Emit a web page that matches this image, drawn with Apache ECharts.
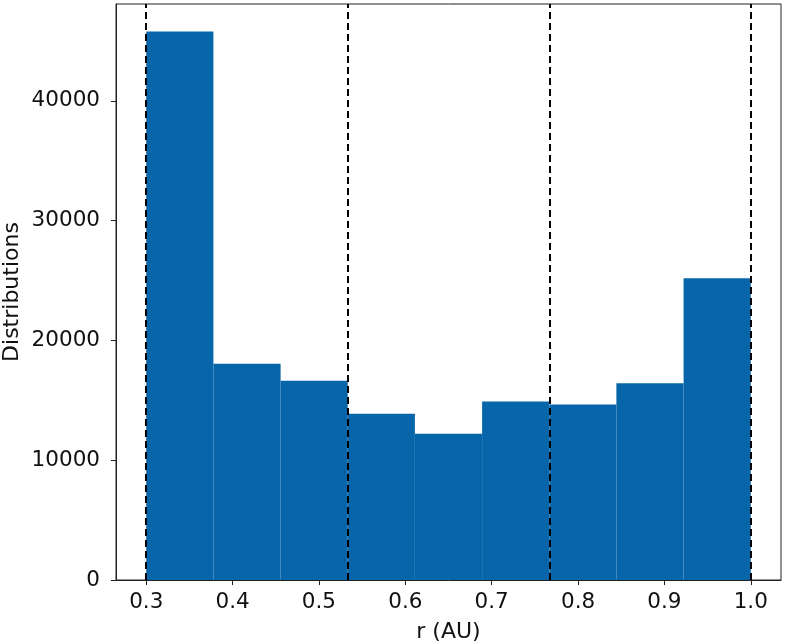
<!DOCTYPE html>
<html>
<head>
<meta charset="utf-8">
<script src="https://cdn.jsdelivr.net/npm/echarts@6/dist/echarts.min.js"></script>
<style>
  html, body { margin: 0; padding: 0; background: #fff; }
  #chart { width: 785px; height: 644px; }
</style>
</head>
<body>
<div id="chart"></div>
<script>
// histogram bins of r (AU), 9 bins from 0.3 to 1.0
var binEdges = [0.3, 0.3778, 0.4556, 0.5333, 0.6111, 0.6889, 0.7667, 0.8444, 0.9222, 1.0];
var counts = [45800, 18050, 16630, 13870, 12200, 14900, 14650, 16430, 25190];
// dashed region boundaries
var boundaries = [0.3, 0.5333, 0.7667, 1.0];
var xTicks = [0.3, 0.4, 0.5, 0.6, 0.7, 0.8, 0.9, 1.0];
var yTicks = [0, 10000, 20000, 30000, 40000];

var barColor = "#0766a9";
var textColor = "#111";
var font = "DejaVu Sans";

var histData = counts.map(function (c, i) {
  return [binEdges[i], binEdges[i + 1], c];
});

var chart = echarts.init(document.getElementById("chart"));

var option = {
  animation: false,
  grid: {
    left: 116,
    right: 4,
    top: 4,
    bottom: 64,
    outerBoundsMode: "none",
    containLabel: false,
    show: true,
    borderColor: "#222",
    borderWidth: 1,
  },
  xAxis: {
    type: "value",
    min: 0.265,
    max: 1.035,
    name: "r (AU)",
    nameLocation: "middle",
    nameGap: 41,
    nameMoveOverlap: false,
    nameTextStyle: { fontFamily: font, fontSize: 22, color: textColor },
    axisLine: { show: true, lineStyle: { color: "#222", width: 1 } },
    axisTick: {
      show: true,
      length: 5,
      customValues: xTicks,
      lineStyle: { color: "#222" },
    },
    axisLabel: {
      customValues: xTicks,
      margin: 11,
      fontFamily: font,
      fontSize: 21.5,
      color: textColor,
      formatter: function (v) {
        return v.toFixed(1);
      },
    },
    splitLine: { show: false },
  },
  yAxis: {
    type: "value",
    min: 0,
    max: Math.max.apply(null, counts) * 1.05,
    name: "Distributions",
    nameLocation: "middle",
    nameGap: 93,
    nameMoveOverlap: false,
    nameTextStyle: { fontFamily: font, fontSize: 22, color: textColor },
    axisLine: { show: true, lineStyle: { color: "#222", width: 1 } },
    axisTick: {
      show: true,
      length: 5,
      customValues: yTicks,
      lineStyle: { color: "#222" },
    },
    axisLabel: {
      customValues: yTicks,
      margin: 16,
      fontFamily: font,
      fontSize: 21.5,
      color: textColor,
      formatter: function (v) {
        return String(v);
      },
    },
    splitLine: { show: false },
  },
  series: [
    {
      type: "custom",
      data: histData,
      encode: { x: [0, 1], y: 2 },
      renderItem: function (params, api) {
        var top = api.coord([api.value(0), api.value(2)]);
        var bottom = api.coord([api.value(1), 0]);
        return {
          type: "rect",
          shape: {
            x: top[0],
            y: top[1],
            width: bottom[0] - top[0],
            height: bottom[1] - top[1],
          },
          style: { fill: barColor },
        };
      },
      z: 2,
    },
    {
      type: "line",
      data: [],
      z: 5,
      markLine: {
        silent: true,
        symbol: "none",
        precision: 4,
        label: { show: false },
        lineStyle: { color: "#000", type: [7, 4], width: 2 },
        data: boundaries.map(function (v) {
          return { xAxis: v };
        }),
      },
    },
  ],
};

chart.setOption(option);
</script>
</body>
</html>
